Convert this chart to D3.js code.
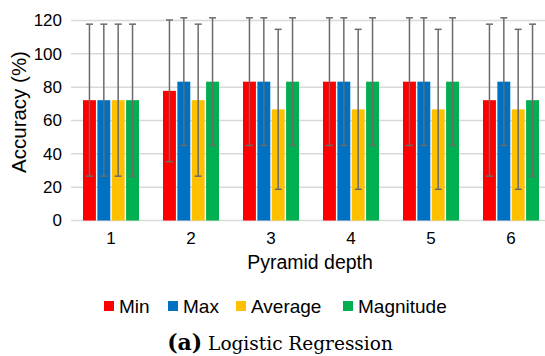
<!DOCTYPE html>
<html>
<head>
<meta charset="utf-8">
<script src="https://cdn.jsdelivr.net/npm/d3@7"></script>
<style>
  body { margin: 0; background: #fff; }
  svg { display: block; }
</style>
</head>
<body>
<div id="chart"></div>
<script>
const depths = ["1", "2", "3", "4", "5", "6"];
const seriesNames = ["Min", "Max", "Average", "Magnitude"];
const minVals = [72.2, 77.8, 83.3, 83.3, 83.3, 72.2];
const maxVals = [72.2, 83.3, 83.3, 83.3, 83.3, 83.3];
const avgVals = [72.2, 72.2, 66.7, 66.7, 66.7, 66.7];
const magVals = [72.2, 83.3, 83.3, 83.3, 83.3, 72.2];
const minErr = [45.6, 42.5, 38.3, 38.3, 38.3, 45.6];
const maxErr = [45.6, 38.3, 38.3, 38.3, 38.3, 38.3];
const avgErr = [45.6, 45.6, 48.0, 48.0, 48.0, 48.0];
const magErr = [45.6, 38.3, 38.3, 38.3, 38.3, 45.6];
const yTicks = [0, 20, 40, 60, 80, 100, 120];

const colors = { Min: "#ff0000", Max: "#0070c0", Average: "#ffc000", Magnitude: "#00b050" };
const vals = { Min: minVals, Max: maxVals, Average: avgVals, Magnitude: magVals };
const errs = { Min: minErr, Max: maxErr, Average: avgErr, Magnitude: magErr };

const width = 545, height = 356;
const margin = { top: 20.5, left: 71, plotRight: 551, bottom: 220.5 };

const svg = d3.select("#chart").append("svg")
  .attr("width", width)
  .attr("height", height)
  .style("font-family", "'Liberation Sans', Arial, sans-serif");

const x0 = d3.scaleBand()
  .domain(depths)
  .range([margin.left, margin.plotRight])
  .paddingInner(0.3)
  .paddingOuter(0.15);

const x1 = d3.scaleBand()
  .domain(seriesNames)
  .range([0, x0.bandwidth()])
  .paddingInner(0.1);

const y = d3.scaleLinear()
  .domain([0, 120])
  .range([margin.bottom, margin.top]);

// gridlines
svg.append("g")
  .selectAll("line")
  .data(yTicks)
  .join("line")
    .attr("x1", margin.left)
    .attr("x2", margin.plotRight)
    .attr("y1", d => y(d))
    .attr("y2", d => y(d))
    .attr("stroke", "#d9d9d9")
    .attr("stroke-width", 1.5);

// y labels
svg.append("g")
  .selectAll("text")
  .data(yTicks)
  .join("text")
    .attr("x", 62)
    .attr("y", d => y(d))
    .attr("dy", "0.35em")
    .attr("text-anchor", "end")
    .attr("font-size", 17)
    .attr("fill", "#000")
    .text(d => d);

svg.append("text")
  .attr("transform", "rotate(-90)")
  .attr("x", -112)
  .attr("y", 19)
  .attr("dy", "0.35em")
  .attr("text-anchor", "middle")
  .attr("font-size", 20.5)
  .text("Accuracy (%)");

// bars
const rows = [];
depths.forEach((d, i) => {
  seriesNames.forEach(s => {
    rows.push({ depth: d, series: s, value: vals[s][i], err: errs[s][i] });
  });
});

svg.append("g")
  .selectAll("rect")
  .data(rows)
  .join("rect")
    .attr("x", d => x0(d.depth) + x1(d.series))
    .attr("y", d => y(d.value))
    .attr("width", x1.bandwidth())
    .attr("height", d => y(0) - y(d.value))
    .attr("fill", d => colors[d.series]);

// error bars
const eb = svg.append("g")
  .attr("stroke", "#6b6b6b")
  .attr("stroke-width", 1.5);

eb.selectAll("line.stem")
  .data(rows)
  .join("line")
    .attr("class", "stem")
    .attr("x1", d => x0(d.depth) + x1(d.series) + x1.bandwidth() / 2)
    .attr("x2", d => x0(d.depth) + x1(d.series) + x1.bandwidth() / 2)
    .attr("y1", d => y(d.value + d.err))
    .attr("y2", d => y(d.value - d.err));

["top", "bot"].forEach(k => {
  eb.selectAll("line.cap-" + k)
    .data(rows)
    .join("line")
      .attr("class", "cap-" + k)
      .attr("x1", d => x0(d.depth) + x1(d.series) + x1.bandwidth() / 2 - 3.5)
      .attr("x2", d => x0(d.depth) + x1(d.series) + x1.bandwidth() / 2 + 3.5)
      .attr("y1", d => y(k === "top" ? d.value + d.err : d.value - d.err))
      .attr("y2", d => y(k === "top" ? d.value + d.err : d.value - d.err));
});

// x labels
svg.append("g")
  .selectAll("text")
  .data(depths)
  .join("text")
    .attr("x", d => x0(d) + x0.bandwidth() / 2)
    .attr("y", 238)
    .attr("dy", "0.35em")
    .attr("text-anchor", "middle")
    .attr("font-size", 17)
    .text(d => d);

svg.append("text")
  .attr("x", 310)
  .attr("y", 262)
  .attr("dy", "0.35em")
  .attr("text-anchor", "middle")
  .attr("font-size", 19.5)
  .text("Pyramid depth");

// legend
const legendX = [104, 168, 236, 343];
const legend = svg.append("g")
  .selectAll("g")
  .data(seriesNames)
  .join("g")
    .attr("transform", (d, i) => `translate(${legendX[i]}, 306)`);

legend.append("rect")
  .attr("x", 0)
  .attr("y", -5)
  .attr("width", 10)
  .attr("height", 10)
  .attr("fill", d => colors[d]);

legend.append("text")
  .attr("x", 15)
  .attr("dy", "0.35em")
  .attr("font-size", 19)
  .text(d => d);

// caption
const cap = svg.append("text")
  .attr("x", 280)
  .attr("y", 350)
  .attr("text-anchor", "middle")
  .style("font-family", "'DejaVu Serif', 'Liberation Serif', serif");

cap.append("tspan")
  .attr("font-weight", "bold")
  .attr("font-size", 22)
  .text("(a)");

cap.append("tspan")
  .attr("font-size", 18.5)
  .text(" Logistic Regression");
</script>
</body>
</html>
